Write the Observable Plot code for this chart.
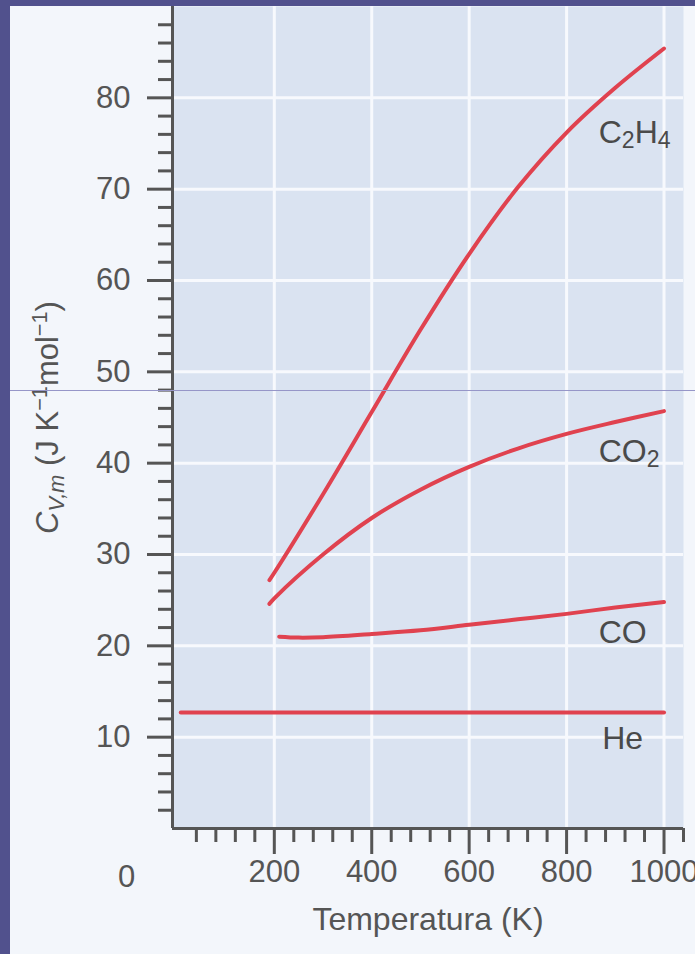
<!DOCTYPE html>
<html><head><meta charset="utf-8">
<script src="https://cdn.jsdelivr.net/npm/d3@7"></script>
<script src="https://cdn.jsdelivr.net/npm/@observablehq/plot@0.6"></script>
<style>
html,body{margin:0;padding:0;background:#51518d;}
#wrap{position:relative;width:695px;height:954px;overflow:hidden;}
#paper{position:absolute;left:10px;top:6px;right:0;bottom:0;background:#f3f6fb;}
#chart{position:absolute;left:0;top:0;}
#streak{position:absolute;left:10px;top:390px;width:685px;height:1px;background:#9696c8;}
</style></head><body>
<div id="wrap"><div id="paper"></div><div id="chart"></div><div id="streak"></div></div>
<script>
// ---- data ----
const gases = ["C2H4", "CO2", "CO", "He"];
const tempC2H4 = [190, 200, 300, 400, 500, 600, 700, 800, 900, 1000];
const cvC2H4   = [27.2, 28.0, 36.6, 45.6, 54.6, 62.9, 70.2, 76.2, 81.1, 85.4];
const tempCO2  = [190, 200, 300, 400, 500, 600, 700, 800, 900, 1000];
const cvCO2    = [24.6, 25.2, 30.0, 34.0, 37.1, 39.6, 41.6, 43.2, 44.5, 45.7];
const tempCO   = [210, 250, 300, 400, 500, 600, 700, 800, 900, 1000];
const cvCO     = [21.0, 20.9, 20.95, 21.3, 21.7, 22.3, 22.9, 23.5, 24.2, 24.8];
const tempHe   = [8, 200, 400, 600, 800, 1000];
const cvHe     = [12.7, 12.7, 12.7, 12.7, 12.7, 12.7];
// label anchors (data units)
const labelT  = [866, 866, 866, 873];
const labelCv = [76.2, 41.2, 21.4, 9.8];
// ticks
const xTickValues = [200, 400, 600, 800, 1000];
const xMinorTicks = d3.range(40, 1041, 40).filter(t => t % 200 !== 0);
const yTickValues = [10, 20, 30, 40, 50, 60, 70, 80];
const yMinorTicks = d3.range(2, 89, 2).filter(v => v % 10 !== 0);
const xLabel = "Temperatura (K)";
const yLabel = "C_V,m (J K-1mol-1)";
const originLabel = "0";

const seriesT = [tempC2H4, tempCO2, tempCO, tempHe];
const seriesCv = [cvC2H4, cvCO2, cvCO, cvHe];
const rows = gases.flatMap((g, i) => seriesT[i].map((t, j) => ({gas: g, T: t, cv: seriesCv[i][j]})));
const labels = gases.map((g, i) => ({gas: g, T: labelT[i], cv: labelCv[i]}));

const ink = "#555";
const chart = Plot.plot({
  width: 695, height: 954,
  marginLeft: 172, marginRight: 12, marginTop: 6, marginBottom: 126,
  x: {domain: [-9, 1040]},
  y: {domain: [0, 90]},
  style: {background: "transparent", fontFamily: "'Liberation Sans', Arial, sans-serif", fontSize: "31px", color: ink},
  marks: [
    Plot.frame({fill: "#dae3f1", stroke: null}),
    Plot.gridX(xTickValues, {stroke: "#f7f9fd", strokeOpacity: 1, strokeWidth: 3}),
    Plot.gridY(yTickValues, {stroke: "#f7f9fd", strokeOpacity: 1, strokeWidth: 3}),
    Plot.line(rows, {x: "T", y: "cv", z: "gas", stroke: "#e0424f", strokeWidth: 4, curve: "catmull-rom", strokeLinecap: "round"}),
    Plot.ruleX([-9], {stroke: ink, strokeWidth: 3}),
    Plot.ruleY([0], {stroke: ink, strokeWidth: 3}),
    Plot.axisY(yTickValues, {tickSize: 25, tickPadding: 17, strokeWidth: 3, color: ink, label: null, tickFormat: d => String(d)}),
    Plot.axisY(yMinorTicks, {tickSize: 14, strokeWidth: 3, color: ink, label: null, tickFormat: () => ""}),
    Plot.axisX(xTickValues, {tickSize: 26, tickPadding: 5, strokeWidth: 3, color: ink, label: null, tickFormat: d => String(d)}),
    Plot.axisX(xMinorTicks, {tickSize: 14, strokeWidth: 3, color: ink, label: null, tickFormat: () => ""}),
    Plot.text([originLabel], {text: d => d, frameAnchor: "bottom-left", textAnchor: "middle", lineAnchor: "middle", dx: -46, dy: 49, fill: ink, fontSize: 31}),
    Plot.text([xLabel], {text: d => d, frameAnchor: "bottom", textAnchor: "middle", lineAnchor: "middle", dy: 91, fill: ink, fontSize: 32}),
    Plot.text([yLabel], {text: d => d, frameAnchor: "left", textAnchor: "middle", lineAnchor: "middle", dx: -124, rotate: -90, fill: ink, fontSize: 31}),
    Plot.text(labels, {x: "T", y: "cv", text: "gas", textAnchor: "start", lineAnchor: "middle", fill: "#4a4a4a", fontSize: 32})
  ]
});
document.getElementById("chart").appendChild(chart);

// rich text: subscripts / superscripts
d3.select(chart).selectAll("text").each(function() {
  const s = this.textContent;
  const t = d3.select(this);
  if (gases.includes(s)) {
    t.text(null);
    const parts = s.match(/\d+|\D+/g);
    let down = false;
    parts.forEach(p => {
      if (/\d/.test(p)) {
        t.append("tspan").attr("dy", 5).attr("font-size", "0.72em").text(p);
        down = true;
      } else {
        t.append("tspan").attr("dy", down ? -5 : 0).text(p);
        down = false;
      }
    });
  } else if (s === yLabel) {
    t.text(null);
    t.append("tspan").attr("font-style", "italic").text("C");
    t.append("tspan").attr("font-style", "italic").attr("font-size", "0.7em").attr("dy", 6).text("V,m");
    t.append("tspan").attr("dy", -6).text(" (J K");
    t.append("tspan").attr("font-size", "0.7em").attr("dy", -11).text("\u22121");
    t.append("tspan").attr("dy", 11).text("mol");
    t.append("tspan").attr("font-size", "0.7em").attr("dy", -11).text("\u22121");
    t.append("tspan").attr("dy", 11).text(")");
  }
});
</script></body></html>
